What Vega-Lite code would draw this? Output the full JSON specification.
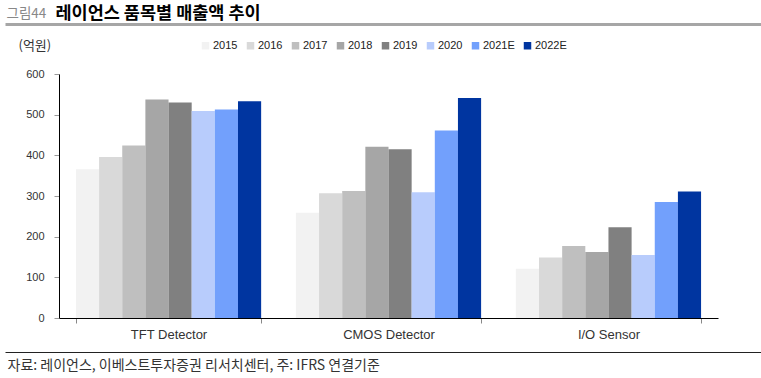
{
  "$schema": "https://vega.github.io/schema/vega-lite/v6.json",
  "width": 659,
  "height": 244,
  "autosize": "none",
  "padding": {"left": 59, "top": 74, "right": 43, "bottom": 60},
  "background": "white",
  "config": {
    "view": {"stroke": null},
    "font": "Liberation Sans, Arial, Noto Sans CJK KR",
    "axis": {"labelFont": "Liberation Sans, Arial, Noto Sans CJK KR", "titleFont": "Noto Sans CJK KR"},
    "legend": {"labelFont": "Liberation Sans, Arial, Noto Sans CJK KR"}
  },
  "data": {
    "values": [
      {"item": "TFT Detector", "year": "2015", "value": 366},
      {"item": "TFT Detector", "year": "2016", "value": 396},
      {"item": "TFT Detector", "year": "2017", "value": 424},
      {"item": "TFT Detector", "year": "2018", "value": 537},
      {"item": "TFT Detector", "year": "2019", "value": 530},
      {"item": "TFT Detector", "year": "2020", "value": 509},
      {"item": "TFT Detector", "year": "2021E", "value": 513},
      {"item": "TFT Detector", "year": "2022E", "value": 533},
      {"item": "CMOS Detector", "year": "2015", "value": 259},
      {"item": "CMOS Detector", "year": "2016", "value": 307},
      {"item": "CMOS Detector", "year": "2017", "value": 312},
      {"item": "CMOS Detector", "year": "2018", "value": 421},
      {"item": "CMOS Detector", "year": "2019", "value": 415},
      {"item": "CMOS Detector", "year": "2020", "value": 309},
      {"item": "CMOS Detector", "year": "2021E", "value": 461},
      {"item": "CMOS Detector", "year": "2022E", "value": 541},
      {"item": "I/O Sensor", "year": "2015", "value": 121},
      {"item": "I/O Sensor", "year": "2016", "value": 149},
      {"item": "I/O Sensor", "year": "2017", "value": 177},
      {"item": "I/O Sensor", "year": "2018", "value": 162},
      {"item": "I/O Sensor", "year": "2019", "value": 223},
      {"item": "I/O Sensor", "year": "2020", "value": 155},
      {"item": "I/O Sensor", "year": "2021E", "value": 285},
      {"item": "I/O Sensor", "year": "2022E", "value": 311}
    ]
  },
  "layer": [
    {
      "mark": {"type": "bar"},
      "encoding": {
        "x": {
          "field": "item", "type": "nominal",
          "sort": ["TFT Detector", "CMOS Detector", "I/O Sensor"],
          "scale": {"paddingInner": 0.158, "paddingOuter": 0.077},
          "axis": {
            "orient": "bottom", "title": null, "labelAngle": 0, "labelFontSize": 13,
            "labelColor": "#333", "labelPadding": 5, "domainColor": "#000", "domainWidth": 1,
            "tickColor": "#888", "tickSize": 5, "tickBand": "extent", "grid": false
          }
        },
        "xOffset": {
          "field": "year", "type": "nominal",
          "sort": ["2015", "2016", "2017", "2018", "2019", "2020", "2021E", "2022E"],
          "scale": {"paddingInner": 0, "paddingOuter": 0}
        },
        "y": {
          "field": "value", "type": "quantitative",
          "scale": {"domain": [0, 600], "nice": false},
          "axis": {
            "values": [0, 100, 200, 300, 400, 500, 600], "grid": false,
            "title": "(억원)", "titleAngle": 0, "titleX": -41, "titleY": -29,
            "titleAlign": "left", "titleBaseline": "middle", "titleFontSize": 13,
            "titleFontWeight": "normal", "titleColor": "#333",
            "labelFontSize": 11, "labelColor": "#333", "labelPadding": 10,
            "tickSize": 5, "tickColor": "#999", "domainColor": "#000", "domainWidth": 1
          }
        },
        "color": {
          "field": "year", "type": "nominal",
          "scale": {
            "domain": ["2015", "2016", "2017", "2018", "2019", "2020", "2021E", "2022E"],
            "range": ["#f2f2f2", "#d9d9d9", "#bfbfbf", "#a6a6a6", "#808080", "#b8ccfc", "#72a0fc", "#0035a0"]
          },
          "legend": {
            "orient": "none", "legendX": 141, "legendY": -34, "direction": "horizontal",
            "columns": 8, "title": null, "symbolType": "square", "symbolSize": 56,
            "labelFontSize": 11, "labelOffset": 2, "columnPadding": 7, "labelColor": "#222",
            "symbolStrokeWidth": 0, "padding": 0
          }
        }
      }
    },
    {
      "mark": {"type": "point", "opacity": 0},
      "encoding": {
        "x": {
          "field": "item", "type": "nominal",
          "scale": {"range": [-54, 702]},
          "axis": {
            "orient": "bottom", "offset": 34, "labels": false, "ticks": false, "grid": false,
            "domainColor": "#222", "domainWidth": 1,
            "title": "자료: 레이언스, 이베스트투자증권 리서치센터, 주: IFRS 연결기준",
            "titleX": -52, "titleY": 13, "titleAlign": "left", "titleBaseline": "middle",
            "titleFontSize": 14, "titleFontWeight": "normal", "titleColor": "#333"
          }
        }
      }
    },
    {
      "mark": {"type": "point", "opacity": 0},
      "encoding": {
        "x": {
          "field": "item", "type": "nominal",
          "scale": {"range": [-54, 702]},
          "axis": {
            "orient": "top", "offset": 50, "labels": false, "ticks": false, "grid": false,
            "domainColor": "#a6a6a6", "domainWidth": 3,
            "title": "레이언스 품목별 매출액 추이",
            "titleX": -4, "titleY": -11, "titleAlign": "left", "titleBaseline": "middle",
            "titleFontSize": 17.5, "titleFontWeight": "bold", "titleColor": "#000"
          }
        },
        "y": {
          "field": "value", "type": "quantitative",
          "axis": {
            "orient": "right", "domain": false, "labels": false, "ticks": false, "grid": false,
            "title": "그림44", "titleAngle": 0, "titleX": -712, "titleY": -61,
            "titleAlign": "left", "titleBaseline": "middle", "titleFontSize": 13.5,
            "titleFontWeight": "normal", "titleColor": "#888"
          }
        }
      }
    }
  ],
  "resolve": {
    "scale": {"x": "independent", "y": "independent"},
    "axis": {"x": "independent", "y": "independent"}
  }
}
